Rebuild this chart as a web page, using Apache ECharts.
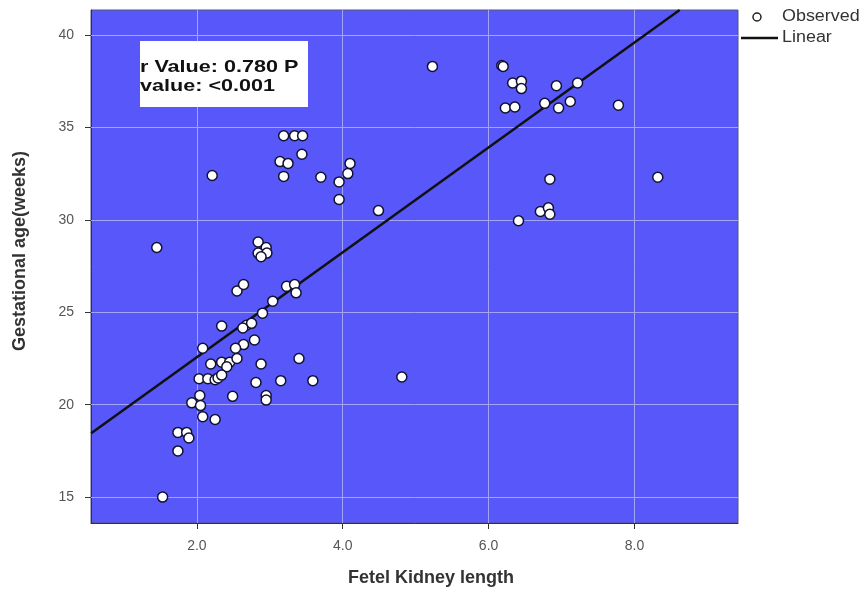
<!DOCTYPE html>
<html>
<head>
<meta charset="utf-8">
<script src="https://cdn.jsdelivr.net/npm/echarts@6/dist/echarts.min.js"></script>
<style>
html,body{margin:0;padding:0;background:#fff;}
#chart{width:866px;height:597px;}
</style>
</head>
<body>
<div id="chart"></div>
<script>
// Observed points: Fetal kidney length (x) vs gestational age (y)
const kidneyLength = [
  5.23, 6.18, 6.20,
  6.33, 6.45, 6.45, 6.93, 7.22,
  6.23, 6.36, 6.77, 6.96, 7.12, 7.78,
  6.84, 8.32,
  6.71, 6.82, 6.84, 6.41,
  3.19, 3.34, 3.45, 3.44, 3.14, 3.25, 3.19, 3.70, 3.95, 4.07, 4.10, 3.95, 4.49,
  2.21, 1.45,
  2.84, 2.95, 2.84, 2.96, 2.88,
  2.55, 2.64, 3.23, 3.34, 3.36, 3.04, 2.90, 2.34, 2.68, 2.75, 2.63, 2.79, 2.64, 2.53, 2.08,
  2.19, 2.34, 2.45, 2.55, 2.41, 2.88, 3.40,
  2.03, 2.15, 2.25, 2.29, 2.34, 2.81, 3.15, 3.59, 4.81,
  2.49, 2.95, 2.95, 2.04, 1.93, 2.05,
  2.08, 2.25,
  1.74, 1.86, 1.89, 1.74, 1.53
];
const gestationalAge = [
  38.3, 38.35, 38.3,
  37.4, 37.5, 37.1, 37.25, 37.4,
  36.05, 36.1, 36.3, 36.05, 36.4, 36.2,
  32.2, 32.3,
  30.45, 30.65, 30.3, 29.95,
  34.55, 34.55, 34.55, 33.55, 33.15, 33.05, 32.35, 32.3, 32.05, 32.5, 33.05, 31.1, 30.5,
  32.4, 28.5,
  28.8, 28.5, 28.2, 28.2, 28.0,
  26.15, 26.5, 26.4, 26.5, 26.05, 25.6, 24.95, 24.25, 24.3, 24.4, 24.15, 23.5, 23.25, 23.05, 23.05,
  22.2, 22.3, 22.3, 22.5, 22.05, 22.2, 22.5,
  21.4, 21.4, 21.35, 21.45, 21.6, 21.2, 21.3, 21.3, 21.5,
  20.45, 20.5, 20.25, 20.5, 20.1, 19.95,
  19.35, 19.2,
  18.5, 18.5, 18.2, 17.5, 15.0
];
// Linear fit line end points (as drawn)
const fitX = [0.55, 8.62];
const fitY = [18.45, 41.35];

const xTicks = [2, 4, 6, 8];
const yTicks = [15, 20, 25, 30, 35, 40];
const xRange = [0.548, 9.42];
const yRange = [13.6, 41.35];

const seriesNames = ['Observed', 'Linear'];
const annotationLines = ['r Value: 0.780 P', 'value: <0.001'];
const xTitle = 'Fetel Kidney length';
const yTitle = 'Gestational age(weeks)';

const FONT = '"Liberation Sans", Arial, sans-serif';
const gridColor = '#a4a4f6';

const scatterData = kidneyLength.map((x, i) => [x, gestationalAge[i]]);
const lineData = fitX.map((x, i) => [x, fitY[i]]);

const gridLines = [];
xTicks.forEach(v => gridLines.push({xAxis: v}));
yTicks.forEach(v => gridLines.push({yAxis: v}));

const chart = echarts.init(document.getElementById('chart'), null, {renderer: 'canvas'});
chart.setOption({
  animation: false,
  textStyle: {fontFamily: FONT},
  grid: {
    left: 91, right: 128, top: 10, bottom: 74,
    show: true, backgroundColor: '#5858FA', borderColor: '#555577', borderWidth: 1
  },
  xAxis: {
    type: 'value',
    min: xRange[0], max: xRange[1],
    axisLine: {show: true, onZero: false, lineStyle: {color: '#333', width: 1}},
    axisTick: {show: true, length: 6, customValues: xTicks, lineStyle: {color: '#333'}},
    axisLabel: {customValues: xTicks, margin: 16, fontSize: 14, color: '#555',
      formatter: v => Number(v).toFixed(1)},
    splitLine: {show: false}
  },
  yAxis: {
    type: 'value',
    min: yRange[0], max: yRange[1],
    axisLine: {show: true, onZero: false, lineStyle: {color: '#333', width: 1}},
    axisTick: {show: true, length: 6, customValues: yTicks, lineStyle: {color: '#333'}},
    axisLabel: {customValues: yTicks, margin: 17, fontSize: 14, color: '#555',
      formatter: v => String(Math.round(v))},
    splitLine: {show: false}
  },
  series: [
    {
      name: seriesNames[1],
      type: 'line',
      data: lineData,
      showSymbol: false,
      symbol: 'none',
      lineStyle: {color: '#111', width: 2.5},
      itemStyle: {color: '#111'},
      z: 3,
      markLine: {
        silent: true,
        symbol: ['none', 'none'],
        label: {show: false},
        lineStyle: {color: gridColor, width: 1, type: 'solid'},
        data: gridLines,
        z: 1
      }
    },
    {
      name: seriesNames[0],
      type: 'scatter',
      data: scatterData,
      symbol: 'circle',
      symbolSize: 10,
      itemStyle: {color: '#ffffff', borderColor: '#111133', borderWidth: 1.5, opacity: 1},
      z: 4
    }
  ],
  graphic: [
    {
      type: 'rect', left: 140, top: 41, z: 10,
      shape: {width: 168, height: 66},
      style: {fill: '#ffffff'}
    },
    {
      type: 'text', x: 140, y: 58, z: 11, scaleX: 1.27,
      style: {
        text: annotationLines.join('\n'),
        font: 'bold 17px ' + FONT,
        lineHeight: 19,
        fill: '#111'
      }
    },
    // axis titles
    {
      type: 'text', x: 431, y: 578, z: 10,
      style: {text: xTitle, font: 'bold 18px ' + FONT, fill: '#333', align: 'center', verticalAlign: 'middle'}
    },
    {
      type: 'text', x: 20, y: 251, z: 10, rotation: Math.PI / 2,
      style: {text: yTitle, font: 'bold 18px ' + FONT, fill: '#333', align: 'center', verticalAlign: 'middle'}
    },
    // legend
    {
      type: 'circle', z: 10,
      shape: {cx: 757, cy: 17, r: 4},
      style: {fill: '#fff', stroke: '#222', lineWidth: 1.5}
    },
    {
      type: 'text', x: 782, y: 17, z: 10, scaleX: 1.12,
      style: {text: seriesNames[0], font: '16px ' + FONT, fill: '#333', verticalAlign: 'middle'}
    },
    {
      type: 'line', z: 10,
      shape: {x1: 741, y1: 38, x2: 778, y2: 38},
      style: {stroke: '#111', lineWidth: 2.5}
    },
    {
      type: 'text', x: 782, y: 38, z: 10, scaleX: 1.12,
      style: {text: seriesNames[1], font: '16px ' + FONT, fill: '#333', verticalAlign: 'middle'}
    }
  ]
});
</script>
</body>
</html>
